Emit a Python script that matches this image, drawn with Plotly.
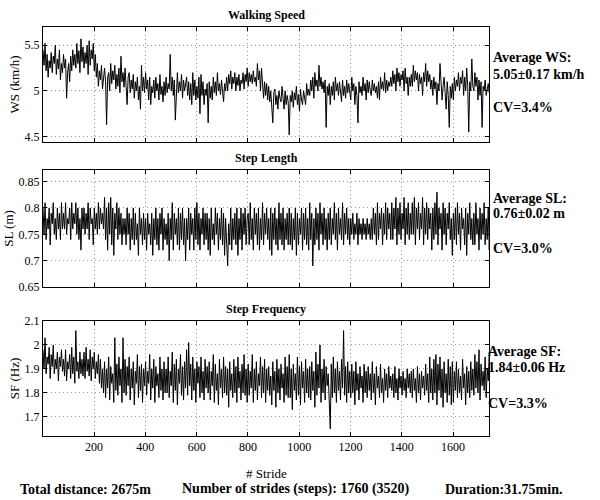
import plotly.graph_objects as go

# stride index of every sampled point (every 4th stride)
strides = list(range(1, 1761, 4))

ws = [
    5.45,5.28,5.52,5.22,5.40,5.15,5.33,5.25,5.42,5.20,5.38,5.30,5.50,5.18,5.35,5.24,5.45,5.12,5.30,5.20,
    5.40,5.25,5.35,4.92,5.20,5.30,5.10,5.38,5.22,5.45,5.28,5.40,5.25,5.52,5.30,5.44,5.20,5.57,5.32,5.48,
    5.25,5.42,5.30,5.50,5.18,5.55,5.28,5.45,5.35,5.52,5.22,5.40,5.15,5.30,5.05,5.22,5.12,5.28,5.02,5.18,
    5.25,5.10,4.63,5.15,5.20,5.00,5.30,5.08,5.22,5.12,5.28,5.02,5.18,5.05,5.25,4.98,5.38,5.10,5.20,5.04,
    5.25,5.05,4.85,5.15,5.20,4.98,5.12,5.02,5.18,4.92,5.10,5.00,5.15,4.90,5.05,4.80,5.28,5.00,5.15,4.98,
    5.20,5.02,5.12,4.90,5.15,4.85,5.05,4.98,5.12,4.92,5.15,5.00,5.08,4.90,5.18,4.96,5.05,4.88,5.10,4.95,
    5.15,4.98,5.08,5.02,5.40,5.00,5.15,4.95,5.12,4.68,5.05,5.20,4.98,5.10,5.00,5.18,4.92,5.12,5.00,5.08,
    5.15,4.95,5.10,4.90,5.08,4.85,5.20,4.95,5.12,4.90,5.05,4.92,5.15,4.75,5.18,4.95,5.10,4.85,5.02,4.95,
    5.08,4.65,5.10,4.92,5.05,4.90,5.15,4.98,5.10,4.95,5.20,5.00,5.08,4.96,5.12,5.00,4.88,5.08,5.00,5.15,
    5.00,5.18,5.08,5.22,5.02,5.15,5.08,5.20,5.00,5.15,5.06,5.18,5.00,5.12,5.08,5.20,5.02,5.18,5.10,5.25,
    5.05,5.20,5.10,5.18,5.08,5.22,5.10,5.15,5.05,5.30,5.12,5.22,5.00,5.25,5.05,4.92,5.10,4.95,5.08,4.90,
    5.05,4.88,5.00,4.85,4.65,4.98,5.02,4.85,4.95,4.80,5.00,4.92,4.88,5.05,4.90,4.80,5.00,4.85,4.95,4.88,
    4.52,4.95,4.88,5.00,4.82,4.98,4.90,5.05,4.85,4.96,4.78,5.02,4.90,4.85,5.00,4.92,4.85,5.08,4.95,5.02,
    4.95,5.12,5.00,5.15,4.92,5.20,5.05,5.12,5.00,5.28,5.05,5.15,5.02,5.10,4.98,5.12,4.60,5.05,4.95,5.08,
    4.85,5.05,4.95,5.10,4.90,5.15,5.00,5.08,4.95,5.10,5.02,4.88,5.12,4.95,5.05,4.92,5.12,4.98,5.08,4.95,
    4.90,5.15,5.00,5.08,4.85,5.05,4.95,4.65,5.10,4.98,5.05,4.95,5.15,5.00,5.08,4.90,5.12,4.98,5.10,5.00,
    4.95,5.12,5.00,5.08,4.98,5.05,4.92,5.10,4.90,5.15,5.02,5.10,5.00,5.20,4.98,5.12,5.00,5.10,5.05,5.15,
    5.05,5.22,5.08,5.18,5.00,5.25,5.10,5.20,5.05,5.18,5.12,5.22,5.00,5.25,5.08,5.15,4.95,5.15,5.05,5.18,
    5.05,5.28,5.10,5.22,5.12,5.20,5.00,5.18,5.08,5.15,4.95,5.20,5.10,5.30,5.05,5.22,5.10,5.18,5.02,5.12,
    4.95,5.15,5.02,5.10,4.85,5.08,5.00,5.30,5.10,4.90,5.05,5.15,4.98,4.80,5.10,4.95,4.60,5.05,4.92,5.08,
    4.90,5.15,5.00,5.12,5.05,5.20,5.00,5.15,5.08,5.22,4.95,5.15,5.00,5.25,5.05,4.55,5.10,5.00,5.35,5.05,
    5.00,5.20,5.05,5.15,4.90,5.12,4.95,5.10,4.60,5.05,5.00,5.12,4.95,5.05,5.08,4.98,5.00,5.10,4.95,5.00,
]

sl = [
    0.80,0.75,0.81,0.74,0.78,0.76,0.80,0.73,0.79,0.77,0.81,0.75,0.78,0.74,0.80,0.76,0.79,0.74,0.81,0.76,
    0.79,0.76,0.81,0.75,0.78,0.77,0.80,0.74,0.81,0.76,0.79,0.77,0.81,0.75,0.80,0.74,0.78,0.72,0.80,0.76,
    0.80,0.75,0.79,0.76,0.81,0.74,0.80,0.77,0.78,0.73,0.80,0.76,0.79,0.75,0.81,0.76,0.80,0.77,0.79,0.76,
    0.82,0.74,0.80,0.72,0.81,0.75,0.82,0.73,0.80,0.71,0.79,0.76,0.81,0.74,0.80,0.75,0.79,0.73,0.78,0.75,
    0.78,0.73,0.80,0.75,0.79,0.72,0.78,0.74,0.80,0.73,0.79,0.74,0.77,0.71,0.80,0.75,0.78,0.73,0.79,0.74,
    0.78,0.72,0.79,0.75,0.77,0.73,0.79,0.71,0.78,0.74,0.80,0.73,0.78,0.72,0.79,0.75,0.80,0.72,0.78,0.74,
    0.77,0.73,0.79,0.70,0.78,0.74,0.81,0.72,0.79,0.75,0.78,0.73,0.80,0.72,0.79,0.74,0.80,0.73,0.78,0.70,
    0.78,0.74,0.80,0.72,0.79,0.75,0.78,0.72,0.80,0.74,0.81,0.73,0.79,0.72,0.78,0.75,0.80,0.73,0.79,0.74,
    0.79,0.72,0.78,0.71,0.80,0.74,0.77,0.73,0.80,0.75,0.79,0.72,0.78,0.74,0.80,0.73,0.79,0.71,0.78,0.74,
    0.69,0.77,0.73,0.80,0.72,0.78,0.74,0.79,0.73,0.80,0.71,0.78,0.74,0.80,0.72,0.79,0.75,0.80,0.73,0.78,
    0.79,0.73,0.81,0.74,0.78,0.72,0.80,0.75,0.79,0.73,0.80,0.72,0.78,0.74,0.81,0.73,0.79,0.75,0.80,0.74,
    0.78,0.72,0.80,0.71,0.79,0.74,0.80,0.73,0.78,0.72,0.81,0.74,0.79,0.73,0.80,0.72,0.78,0.74,0.79,0.73,
    0.80,0.73,0.79,0.72,0.78,0.74,0.80,0.71,0.79,0.73,0.78,0.75,0.80,0.72,0.79,0.74,0.80,0.73,0.78,0.72,
    0.81,0.74,0.79,0.69,0.78,0.73,0.80,0.74,0.79,0.72,0.81,0.75,0.79,0.73,0.80,0.74,0.78,0.72,0.79,0.74,
    0.80,0.73,0.78,0.75,0.81,0.74,0.79,0.72,0.80,0.75,0.78,0.74,0.81,0.73,0.79,0.75,0.80,0.74,0.78,0.73,
    0.78,0.75,0.79,0.74,0.77,0.75,0.79,0.73,0.78,0.75,0.77,0.74,0.78,0.75,0.77,0.74,0.78,0.75,0.77,0.74,
    0.78,0.74,0.80,0.75,0.79,0.73,0.81,0.74,0.79,0.76,0.80,0.73,0.79,0.75,0.81,0.74,0.80,0.76,0.79,0.74,
    0.81,0.74,0.80,0.76,0.82,0.73,0.80,0.75,0.81,0.74,0.79,0.76,0.82,0.73,0.80,0.75,0.81,0.74,0.79,0.75,
    0.81,0.75,0.82,0.73,0.80,0.76,0.81,0.74,0.79,0.76,0.82,0.73,0.80,0.75,0.81,0.74,0.80,0.76,0.79,0.72,
    0.80,0.74,0.81,0.75,0.83,0.73,0.80,0.76,0.79,0.72,0.81,0.75,0.80,0.73,0.79,0.76,0.81,0.74,0.78,0.71,
    0.79,0.74,0.80,0.73,0.81,0.75,0.79,0.72,0.80,0.76,0.78,0.73,0.80,0.71,0.79,0.75,0.81,0.74,0.78,0.73,
    0.79,0.73,0.81,0.75,0.78,0.72,0.80,0.74,0.79,0.75,0.81,0.73,0.78,0.74,0.80,0.72,0.79,0.75,0.77,0.74,
]

sf = [
    1.98,1.90,2.03,1.88,1.95,1.92,1.99,1.86,1.96,1.91,2.00,1.88,1.94,1.90,1.97,1.85,1.95,1.91,1.98,1.89,
    1.94,1.87,1.98,1.85,1.93,1.90,1.96,1.86,1.99,1.88,1.95,1.84,2.06,1.89,1.93,1.86,1.97,1.88,1.94,1.87,
    1.97,1.86,1.99,1.89,1.94,1.87,1.98,1.85,1.95,1.90,1.97,1.86,1.93,1.88,1.96,1.84,1.94,1.82,1.90,1.80,
    1.93,1.78,1.90,1.82,1.95,1.77,1.91,1.84,1.88,1.76,2.03,1.81,1.92,1.79,1.95,1.83,1.90,1.76,2.03,1.80,
    1.94,1.79,1.91,1.83,1.95,1.77,1.90,1.82,1.93,1.75,1.89,1.84,1.96,1.78,1.91,1.81,1.92,1.76,1.90,1.83,
    1.93,1.79,1.89,1.84,1.96,1.77,1.90,1.82,1.94,1.76,1.91,1.83,1.88,1.78,1.95,1.81,1.90,1.77,1.93,1.80,
    1.90,1.80,1.95,1.78,1.89,1.83,1.97,1.76,1.92,1.81,1.94,1.75,1.90,1.84,1.96,1.79,1.91,1.77,1.93,1.82,
    1.98,1.79,2.01,1.83,1.92,1.77,1.95,1.81,1.90,1.76,1.93,1.84,1.91,1.78,1.95,1.80,1.89,1.77,1.94,1.82,
    1.91,1.80,1.93,1.77,1.89,1.83,1.96,1.76,1.92,1.81,1.88,1.75,1.94,1.82,1.90,1.78,1.95,1.80,1.91,1.79,
    1.90,1.74,1.93,1.81,1.88,1.78,1.94,1.80,1.91,1.76,1.95,1.82,1.89,1.77,1.92,1.80,1.96,1.79,1.90,1.76,
    1.92,1.79,1.89,1.82,1.96,1.76,1.90,1.81,1.93,1.77,1.88,1.83,1.95,1.78,1.91,1.80,1.94,1.76,1.90,1.81,
    1.91,1.79,1.87,1.75,1.93,1.81,1.89,1.74,1.94,1.80,1.90,1.77,1.92,1.82,1.88,1.76,1.95,1.79,1.91,1.78,
    1.96,1.78,1.90,1.73,1.92,1.81,1.88,1.77,1.95,1.79,1.91,1.75,1.93,1.82,1.89,1.76,1.94,1.80,1.90,1.78,
    1.91,1.77,1.93,1.81,1.89,1.74,1.97,1.79,1.92,1.82,2.00,1.76,1.90,1.80,1.94,1.77,1.91,1.83,1.88,1.76,
    1.65,1.92,1.78,1.95,1.80,1.90,1.76,1.93,1.81,1.89,1.77,1.94,1.82,2.06,1.79,1.91,1.76,1.93,1.80,1.89,
    1.78,1.92,1.80,1.89,1.75,1.93,1.81,1.88,1.77,1.91,1.82,1.87,1.76,1.92,1.80,1.89,1.78,1.91,1.81,1.88,
    1.77,1.93,1.80,1.88,1.75,1.91,1.82,1.87,1.78,1.92,1.80,1.86,1.76,1.90,1.81,1.88,1.78,1.91,1.82,1.87,
    1.81,1.88,1.78,1.91,1.80,1.86,1.77,1.90,1.82,1.87,1.79,1.89,1.81,1.86,1.78,1.90,1.82,1.88,1.80,1.89,
    1.78,1.90,1.81,1.86,1.76,1.91,1.80,1.88,1.77,1.89,1.82,1.87,1.79,1.92,1.81,1.88,1.76,1.95,1.80,1.90,
    1.77,1.94,1.80,1.96,1.75,1.92,1.81,1.95,1.78,1.90,1.74,1.93,1.80,1.88,1.76,1.94,1.79,1.91,1.75,1.93,
    1.76,1.89,1.81,1.93,1.78,1.90,1.80,1.87,1.77,1.94,1.82,1.88,1.75,1.91,1.80,1.89,1.78,1.93,1.81,1.90,
    1.79,1.96,1.82,1.93,1.80,1.98,1.77,1.92,1.83,1.89,1.81,1.95,1.78,1.90,1.85,1.97,1.80,1.88,1.84,1.86,
]

titles = ["Walking Speed", "Step Length", "Step Frequency"]
ytitles = ["WS (km/h)", "SL (m)", "SF (Hz)"]
yranges = [[4.44, 5.7], [0.65, 0.872], [1.62, 2.1]]
ytickvals = [[4.5, 5, 5.5], [0.65, 0.7, 0.75, 0.8, 0.85], [1.7, 1.8, 1.9, 2.0, 2.1]]
yticktext = [["4.5", "5", "5.5"], ["0.65", "0.7", "0.75", "0.8", "0.85"], ["1.7", "1.8", "1.9", "2", "2.1"]]
stats = [
    ["Average WS:", "5.05±0.17 km/h", "CV=3.4%"],
    ["Average SL:", "0.76±0.02 m", "CV=3.0%"],
    ["Average SF:", "1.84±0.06 Hz", "CV=3.3%"],
]
xticks = [200, 400, 600, 800, 1000, 1200, 1400, 1600]
footer = ["Total distance: 2675m", "Number of strides (steps): 1760 (3520)", "Duration:31.75min."]

W, H = 600, 500
FONT = "Liberation Serif"
L, R, T, B = 43, 489, 27, 436          # plot area in pixels
PW, PH = R - L, B - T
ydom_px = [(27, 142), (170, 287), (321, 436)]


def px(x):
    return (x - L) / PW


def py(y):
    return (B - y) / PH


fig = go.Figure()
series = [ws, sl, sf]
layout = {}
for i, vals in enumerate(series):
    n = "" if i == 0 else str(i + 1)
    fig.add_trace(go.Scatter(x=strides[:len(vals)], y=vals, mode="lines",
                             line=dict(color="black", width=1.0),
                             xaxis="x" + n, yaxis="y" + n, showlegend=False))
    top, bot = ydom_px[i]
    common = dict(showline=True, linecolor="black", linewidth=1, mirror="ticks",
                  ticks="inside", ticklen=4, tickcolor="black", automargin=False,
                  showgrid=True, gridcolor="#9c9c9c", griddash="1px,3px", gridwidth=1,
                  zeroline=False, tickfont=dict(family=FONT, size=12, color="black"))
    layout["xaxis" + n] = dict(common, domain=[0, 1], range=[1, 1740],
                               tickvals=xticks, anchor="y" + n,
                               showticklabels=(i == 2))
    layout["yaxis" + n] = dict(common, domain=[py(bot), py(top)],
                               range=yranges[i], tickvals=ytickvals[i], ticktext=yticktext[i],
                               anchor="x" + n,
                               title=dict(text=ytitles[i], font=dict(family=FONT, size=13, color="black"),
                                          standoff=2))
fig.update_layout(**layout)

ann = []
for i in range(3):
    top, bot = ydom_px[i]
    ann.append(dict(text="<b>%s</b>" % titles[i], x=0.5, y=py(top - 12),
                    xref="paper", yref="paper", showarrow=False, yanchor="middle",
                    font=dict(family=FONT, size=12, color="black")))
ypos = [(58, 74, 107), (198, 213, 249), (351, 367, 403)]
xst = [491, 491, 486]
for i in range(3):
    for j in range(3):
        ann.append(dict(text="<b>%s</b>" % stats[i][j], x=px(xst[i]), y=py(ypos[i][j]),
                        xref="paper", yref="paper", xanchor="left", yanchor="middle",
                        showarrow=False, font=dict(family=FONT, size=14, color="black")))
ann.append(dict(text="# Stride", x=0.5, y=py(473), xref="paper", yref="paper",
                showarrow=False, yanchor="middle", font=dict(family=FONT, size=13, color="black")))
fx = [18, 180, 443]
for t, x in zip(footer, fx):
    ann.append(dict(text="<b>%s</b>" % t, x=px(x), y=py(489), xref="paper", yref="paper",
                    xanchor="left", yanchor="middle", showarrow=False,
                    font=dict(family=FONT, size=14, color="black")))

fig.update_layout(width=W, height=H, margin=dict(l=L, r=W - R, t=T, b=H - B, autoexpand=False),
                  paper_bgcolor="white", plot_bgcolor="white", annotations=ann)
fig.write_html("out.html", config={"displayModeBar": False},
               post_script="document.body.style.margin='0px';")
